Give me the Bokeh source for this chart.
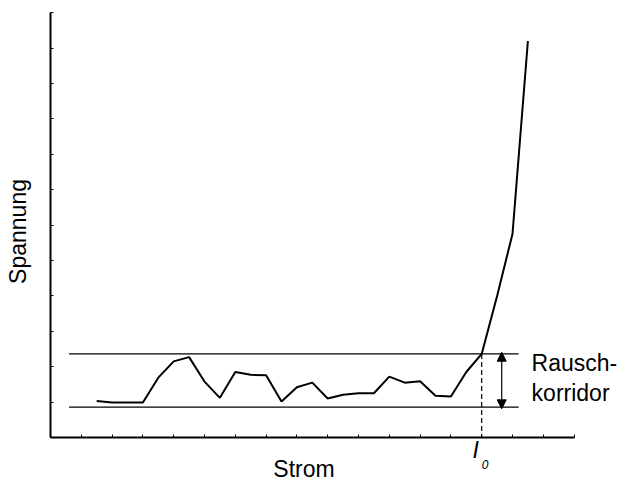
import math
from bokeh.plotting import figure
from bokeh.models import Label, Arrow, NormalHead, FixedTicker, LinearAxis
from bokeh.embed import file_html
from bokeh.resources import INLINE

# Strom (x) and Spannung (y) samples
strom = [1.5, 2.0, 2.5, 3.0, 3.5, 4.0, 4.5, 5.0, 5.5, 6.0, 6.5, 7.0, 7.5, 8.0,
         8.5, 9.0, 9.5, 10.0, 10.5, 11.0, 11.5, 12.0, 12.5, 13.0, 13.5, 14.0,
         14.5, 15.0, 15.5]
spannung = [1.03, 0.99, 0.99, 0.99, 1.69, 2.15, 2.27, 1.58, 1.12, 1.85, 1.77,
            1.76, 1.02, 1.42, 1.55, 1.10, 1.21, 1.25, 1.25, 1.72, 1.55, 1.59,
            1.18, 1.16, 1.85, 2.36, 4.0, 5.75, 11.2]

# noise corridor
corr_top = 2.36
corr_bottom = 0.86
corr_x = [0.6, 15.2]
i0 = 14.0
arrow_x = 14.65

x_ticks = list(range(0, 18))
y_ticks = list(range(0, 13))

FONT = "Liberation Sans"

# frame covers the whole canvas; axes are pinned at x=0 / y=0
p = figure(width=619, height=485, output_backend="svg", toolbar_location=None,
           x_range=(-1.623, 18.474), y_range=(-1.356, 12.345),
           x_axis_location=None, y_axis_location=None, min_border=0)
p.outline_line_color = None
p.grid.visible = False
p.background_fill_color = "white"

xaxis = LinearAxis(fixed_location=0, bounds=(0, 17))
yaxis = LinearAxis(fixed_location=0, bounds=(0, 12))
p.add_layout(xaxis, "below")
p.add_layout(yaxis, "left")
for ax, ticks in ((xaxis, x_ticks), (yaxis, y_ticks)):
    ax.ticker = FixedTicker(ticks=[], minor_ticks=ticks)
    ax.axis_line_width = 2
    ax.axis_line_color = "black"
    ax.major_tick_line_color = None
    ax.minor_tick_in = 3
    ax.minor_tick_out = 0
    ax.minor_tick_line_color = "black"
    ax.minor_tick_line_width = 1

# corridor lines
p.line(corr_x, [corr_top, corr_top], line_color="black", line_width=1.3)
p.line(corr_x, [corr_bottom, corr_bottom], line_color="black", line_width=1.3)

# measured curve
p.line(strom, spannung, line_color="black", line_width=2)

# dashed I0 marker
p.line([i0, i0], [corr_top, 0], line_color="black", line_width=1.2,
       line_dash="5 3")

# double arrow
p.add_layout(Arrow(x_start=arrow_x, y_start=corr_top + 0.05, x_end=arrow_x,
                   y_end=corr_bottom - 0.05, line_width=1.2,
                   start=NormalHead(size=9, fill_color="black", line_color="black"),
                   end=NormalHead(size=9, fill_color="black", line_color="black")))

# texts
p.add_layout(Label(x=15.62, y=1.73, text="Rausch-", text_font=FONT,
                   text_font_size="23px", text_color="black"))
p.add_layout(Label(x=15.62, y=0.876, text="korridor", text_font=FONT,
                   text_font_size="23px", text_color="black"))
p.add_layout(Label(x=13.70, y=-0.71, text="I", text_font=FONT,
                   text_font_size="23px", text_font_style="italic",
                   text_color="black"))
p.add_layout(Label(x=14.0, y=-0.876, text="0", text_font=FONT,
                   text_font_size="12px", text_font_style="italic",
                   text_color="black"))
p.add_layout(Label(x=8.23, y=-1.27, text="Strom", text_font=FONT,
                   text_font_size="23px", text_align="center",
                   text_color="black"))
p.add_layout(Label(x=-1.04, y=5.82, text="Spannung", text_font=FONT,
                   text_font_size="23px", text_align="center",
                   text_baseline="middle", angle=math.pi / 2,
                   text_color="black"))

open("out.html", "w").write(file_html(p, INLINE))
